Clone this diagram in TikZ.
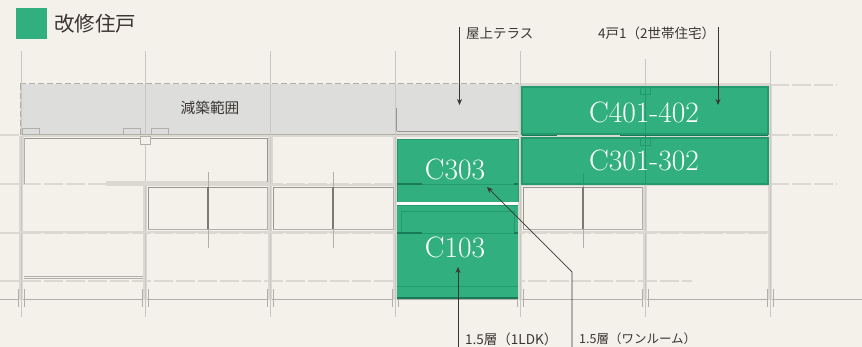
\documentclass[tikz,border=0pt]{standalone}
\usepackage{fontspec}
\newfontfamily\jpfont{Noto Sans CJK JP}
\definecolor{paper}{HTML}{F4F1EA}
\definecolor{roofgrey}{HTML}{DDDEDC}
\definecolor{wallgrey}{HTML}{DAD8D1}
\definecolor{linegrey}{HTML}{B0AFA9}
\definecolor{darkgrey}{HTML}{98978F}
\definecolor{gbase}{HTML}{32AF7F}
\definecolor{gdark}{HTML}{239A6E}
\definecolor{gdeep}{HTML}{187A56}
\definecolor{inkc}{HTML}{3A3533}
\usetikzlibrary{arrows.meta}
\tikzset{
  wall/.style={draw=wallgrey,line width=3.8pt},
  slab/.style={draw=wallgrey,line width=2.4pt},
  thinl/.style={draw=linegrey,line width=.6pt},
  darkl/.style={draw=darkgrey,line width=.9pt},
  gridl/.style={draw=linegrey,line width=.6pt},
  axisd/.style={draw=wallgrey,line width=1.1pt,dash pattern=on 19pt off 3pt},
  roofd/.style={draw=linegrey,line width=1pt,dash pattern=on 6pt off 3pt},
  unit/.style={fill=gbase,draw=gdark,line width=1.2pt},
  gline/.style={draw=gdark,line width=.9pt},
  gbar/.style={draw=gdeep,line width=1.3pt},
  lead/.style={draw=inkc,line width=.7pt},
  leadarrow/.style={lead,-{Stealth[length=6pt,width=5pt]}},
  unitlabel/.style={text=white,font=\fontsize{29.5}{30}\selectfont,inner sep=0pt},
  smalllabel/.style={text=inkc,font=\jpfont\fontsize{13.5}{14}\selectfont,inner sep=0pt,anchor=west},
}
\begin{document}
\begin{tikzpicture}[x=1pt,y=-1pt]
\useasboundingbox (0,0) rectangle (862,347);
\fill[paper] (0,0) rectangle (862,347);

% legend
\node[fill=gbase,minimum width=31pt,minimum height=31pt,inner sep=0pt,anchor=north west] (legend) at (16,8) {};
\node[text=inkc,font=\jpfont\fontsize{20.5}{21}\selectfont,inner sep=0pt,anchor=west] (legendtext) at (54,24) {改修住戸};

% roof zone
\fill[roofgrey] (20,84) rectangle (519,134);
\draw[roofd] (20,84) -- (519,84);
\draw[roofd] (20,84) -- (20,134);
\draw[darkl] (396,108) -- (396,131);
\draw[darkl] (397,131) -- (519,131);

% axis lines
\foreach \y in {135,184,233}{
  \draw[axisd] (0,\y) -- (770,\y);
}
\draw[axisd] (0,281) -- (692,281);
\draw[axisd] (770,85) -- (837,85);
\draw[axisd] (770,135) -- (837,135);
\draw[axisd] (770,184) -- (837,184);
\draw[gridl] (0,299) -- (862,299);
\draw[gridl] (20,134) -- (519,134);

% walls and slabs
\draw[wall,line width=5pt] (21,136) -- (21,184);
\draw[wall] (21,184) -- (21,300);
\draw[wall] (145,184) -- (145,300);
\draw[wall,line width=5pt] (270,136) -- (270,184);
\draw[wall] (270,184) -- (270,300);
\foreach \x in {395,520,645,770}{
  \draw[wall] (\x,136) -- (\x,300);
}
\draw[wall] (520,84) -- (520,136);
\draw[wall] (770,84) -- (770,136);
\draw[slab] (520,84.5) -- (770,84.5);
\foreach \x/\t in {21/51,145/51,270/51,395/51,520/51,645/59,770/51}{
  \draw[gridl,draw=linegrey!70] (\x,\t) -- (\x,317);
  \draw[thinl] (\x-3,289) -- (\x-3,307);
  \draw[thinl] (\x+3,289) -- (\x+3,307);
}
\draw[slab] (21,136) -- (770,136);
\draw[slab] (21,232) -- (770,232);
\draw[line width=5pt,draw=wallgrey] (106,184) -- (270,184);
\draw[slab] (270,185) -- (395,185);
\draw[slab] (520,185) -- (770,185);

% rooms
\draw[darkl] (24,138) -- (267,138) -- (267,182);
\draw[thinl] (24,138) -- (24,184);
\draw[darkl] (148,229) -- (148,187) -- (267,187);
\draw[thinl] (267,187) -- (267,229) -- (148,229);
\draw[darkl] (273,229) -- (273,187) -- (393,187);
\draw[thinl] (393,187) -- (393,229) -- (273,229);
\draw[darkl] (523,229) -- (523,187) -- (642,187);
\draw[thinl] (642,187) -- (642,229) -- (523,229);
\draw[thinl] (24,278) -- (143,278);
\draw[thinl] (24,276) -- (143,276);
\foreach \x in {208,333,583}{
  \draw[thinl] (\x,172) -- (\x,248);
  \draw[draw=darkgrey!80!black,line width=1.4pt] (\x,187) -- (\x,229);
}
% small boxes under the roof
\draw[thinl] (22,134) -- (22,128) -- (39,128) -- (39,134);
\draw[thinl] (123,134) -- (123,128) -- (140,128) -- (140,134);
\draw[thinl] (151,134) -- (151,128) -- (168,128) -- (168,134);
\draw[thinl,fill=paper] (140,136) rectangle (150,144);

% green units
\path[unit] (522,87) rectangle (768,134);
\path[unit] (522,138) rectangle (768,184);
\fill[gbase] (397,139) rectangle (518,202);
\draw[gline] (397,202) -- (397,139) -- (518,139) -- (518,202);
\fill[white] (397,202) rectangle (518,205);
\fill[gbase] (397,205) rectangle (518,299);
\draw[gline] (397,205) -- (518,205);
\draw[gline] (401,233) -- (401,211) -- (514,211) -- (514,233);
\draw[gline] (397,286) -- (518,286);
\draw[gbar,line width=2pt] (397,298) -- (518,298);
\draw[gline] (645,87) -- (645,184);
\draw[gline] (640,87) rectangle (650,94);
\draw[gline] (640,138) rectangle (650,145);
\draw[gbar] (522,135.5) -- (557,135.5);
\draw[gbar] (620,135.5) -- (768,135.5);
\draw[gbar] (397,184) -- (422,184);
\draw[gbar] (514,184) -- (518,184);
\draw[gline] (422,184) -- (514,184);
\draw[gbar] (397,233) -- (422,233);
\draw[gbar] (514,233) -- (518,233);
\draw[gline] (422,233) -- (514,233);
\draw[gline] (583,173) -- (583,184);

% labels
\node[unitlabel] (c401) at (644,112) {C401-402};
\node[unitlabel] (c301) at (644,160) {C301-302};
\node[unitlabel] (c303) at (455,169) {C303};
\node[unitlabel] (c103) at (455,247) {C103};
\node[text=inkc,font=\jpfont\fontsize{14.7}{15}\selectfont,inner sep=0pt] (gen) at (210,108) {減築範囲};
\node[smalllabel] (terrace) at (466,33) {屋上テラス};
\node[smalllabel] (fourone) at (598,33) {4戸1（2世帯住宅）};
\node[smalllabel] (ldk) at (465,339) {1.5層（1LDK）};
\node[smalllabel,font=\jpfont\fontsize{12.5}{13}\selectfont] (oneroom) at (579,339) {1.5層（ワンルーム）};

% leaders
\coordinate (terracetop) at (459.5,27);
\coordinate (terracetip) at (459.5,105);
\coordinate (fourtop) at (718,27);
\coordinate (fourtip) at (718,105);
\coordinate (ldkfoot) at (458,347);
\coordinate (ldktip) at (458,267);
\coordinate (onefoot) at (572,347);
\coordinate (onebend) at (572,272);
\coordinate (onetip) at (487,187);
\draw[leadarrow] (terracetop) -- (terracetip);
\draw[leadarrow] (fourtop) -- (fourtip);
\draw[leadarrow] (ldkfoot) -- (ldktip);
\draw[leadarrow] (onefoot) -- (onebend) -- (onetip);
\end{tikzpicture}
\end{document}
